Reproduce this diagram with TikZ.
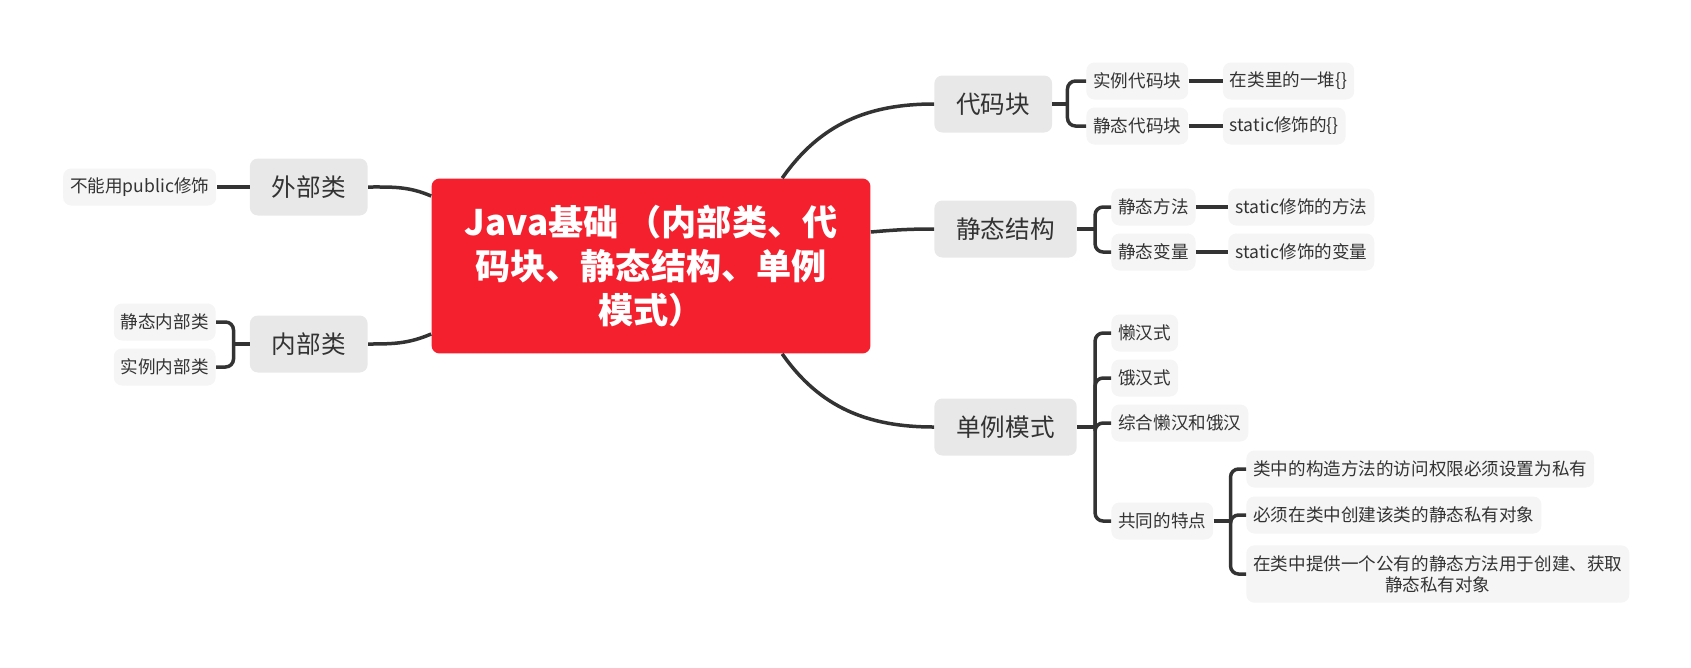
\documentclass[tikz,border=0pt]{standalone}
\usepackage{fontspec}
\setmainfont{Noto Sans CJK SC}
\usepackage{tikz}
\usetikzlibrary{positioning,calc}

\definecolor{rootred}{HTML}{F5202E}
\definecolor{topicgray}{HTML}{E8E8E8}
\definecolor{leafgray}{HTML}{F5F5F5}
\definecolor{inkgray}{HTML}{333333}

\begin{document}
\begin{tikzpicture}[
    x=0.02cm, y=-0.02cm,
    node distance=0.66cm,
    root/.style={rectangle, rounded corners=0.16cm, fill=rootred, text=white, minimum width=8.78cm, minimum height=3.5cm, align=center, font=\fontsize{20}{25}\selectfont\bfseries},
    topic/.style={rectangle, rounded corners=0.16cm, fill=topicgray, text=inkgray, inner xsep=0.44cm, minimum height=1.14cm, font=\fontsize{14}{17}\selectfont},
    leaf/.style={rectangle, rounded corners=0.16cm, fill=leafgray, text=inkgray, inner xsep=0.14cm, minimum height=0.74cm, align=center, font=\fontsize{10}{12}\selectfont},
    branch/.style={draw=inkgray, line width=0.07cm},
    bracket/.style={branch, rounded corners=0.16cm}
]
\useasboundingbox (0,0) rectangle (1691,667);

% centre
\node[root] (root) at (651,266) {Java基础 （内部类、代\\码块、静态结构、单例\\模式）};

% left side
\node[topic, anchor=east] (waibu) at (368,187) {外部类};
\node[topic, anchor=east] (neibu) at (368,344) {内部类};
\node[leaf, left=0.66cm of waibu] (buneng) {不能用public修饰};
\node[leaf, anchor=east] (jtnb) at (216,322) {静态内部类};
\node[leaf, anchor=east] (slnb) at (216,367) {实例内部类};

% right side
\node[topic, anchor=west] (daima) at (934,104) {代码块};
\node[topic, anchor=west] (jgou) at (934,229) {静态结构};
\node[topic, anchor=west] (danli) at (934,427) {单例模式};

\node[leaf, anchor=west] (sldm) at (1086,81) {实例代码块};
\node[leaf, anchor=west] (jtdm) at (1086,126) {静态代码块};
\node[leaf, right=0.68cm of sldm] (yidui) {在类里的一堆\{\}};
\node[leaf, right=0.68cm of jtdm] (xsdui) {static修饰的\{\}};

\node[leaf, anchor=west] (jtff) at (1111,207) {静态方法};
\node[leaf, anchor=west] (jtbl) at (1111,252) {静态变量};
\node[leaf, right=0.64cm of jtff] (xsff) {static修饰的方法};
\node[leaf, right=0.64cm of jtbl] (xsbl) {static修饰的变量};

\node[leaf, anchor=west] (lanhan) at (1111,333) {懒汉式};
\node[leaf, anchor=west] (ehan) at (1111,378) {饿汉式};
\node[leaf, anchor=west] (zonghe) at (1111,423) {综合懒汉和饿汉};
\node[leaf, anchor=west] (tedian) at (1111,521) {共同的特点};
\node[leaf, anchor=west] (sz1) at (1246,469) {类中的构造方法的访问权限必须设置为私有};
\node[leaf, anchor=west] (sz2) at (1246,515) {必须在类中创建该类的静态私有对象};
\node[leaf, anchor=west, inner ysep=0.2cm] (sz3) at (1246,574) {在类中提供一个公有的静态方法用于创建、获取\\静态私有对象};

% main branches
\coordinate (rtop) at ($(root.north west)+(351,0)$);
\coordinate (rbot) at ($(root.south west)+(351,0)$);
\coordinate (rright) at ($(root.east)+(0,-34)$);
\coordinate (rlup) at ($(root.west)+(0,-70)$);
\coordinate (rldown) at ($(root.west)+(0,68)$);
\draw[branch] (rtop) to[out=55,in=180] (daima.west);
\draw[branch] (rright) to[out=5,in=180] (jgou.west);
\draw[branch] (rbot) to[out=-55,in=180] (danli.west);
\draw[branch] (rlup) to[out=157,in=0] (waibu.east);
\draw[branch] (rldown) to[out=203,in=0] (neibu.east);

% brackets
\coordinate (kneibu) at ($(neibu.west)+(-16,0)$);
\coordinate (kdaima) at ($(daima.east)+(15,0)$);
\coordinate (kjgou) at ($(jgou.east)+(18,0)$);
\coordinate (kdanli) at ($(danli.east)+(18,0)$);
\coordinate (ktedian) at ($(tedian.east)+(17,0)$);
\draw[branch] (neibu.west) -- (kneibu);
\draw[branch] (daima.east) -- (kdaima);
\draw[branch] (jgou.east) -- (kjgou);
\draw[branch] (danli.east) -- (kdanli);
\draw[branch] (tedian.east) -- (ktedian);
\foreach \kid in {jtnb,slnb} \draw[bracket] (kneibu) |- (\kid.east);
\foreach \kid in {sldm,jtdm} \draw[bracket] (kdaima) |- (\kid.west);
\foreach \kid in {jtff,jtbl} \draw[bracket] (kjgou) |- (\kid.west);
\foreach \kid in {lanhan,ehan,zonghe,tedian} \draw[bracket] (kdanli) |- (\kid.west);
\foreach \kid in {sz1,sz2,sz3} \draw[bracket] (ktedian) |- (\kid.west);

% single links
\draw[branch] (waibu) -- (buneng);
\draw[branch] (sldm) -- (yidui);
\draw[branch] (jtdm) -- (xsdui);
\draw[branch] (jtff) -- (xsff);
\draw[branch] (jtbl) -- (xsbl);
\end{tikzpicture}
\end{document}
